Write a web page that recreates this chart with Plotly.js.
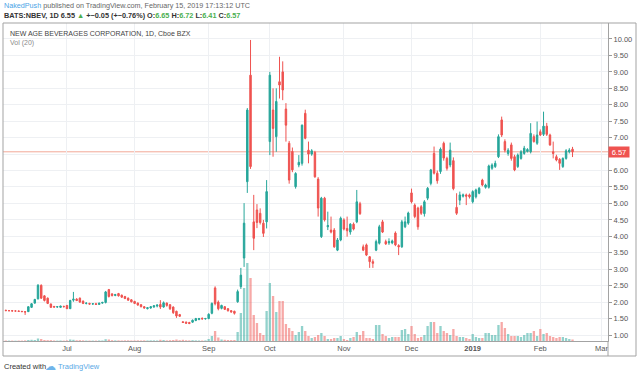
<!DOCTYPE html>
<html><head><meta charset="utf-8">
<script src="https://cdn.plot.ly/plotly-3.0.1.min.js"></script>
<style>html,body{margin:0;padding:0;background:#fff;}#chart{width:640px;height:376px;}</style>
</head><body><div id="chart"></div>
<script>
// ---- calendar ----
const firstDay = '2018-06-05';
const lastTickDay = '2019-03-01';
const holidays = ['2018-07-04','2018-09-03','2018-11-22','2018-12-05','2018-12-25','2019-01-01','2019-01-21','2019-02-18'];
const tickDates = ['2018-07-02','2018-08-01','2018-09-04','2018-10-01','2018-11-01','2018-12-03','2019-01-02','2019-02-01','2019-03-01'];
const tickLabels = ['Jul','Aug','Sep','Oct','Nov','Dec','<b>2019</b>','Feb','Mar'];

// ---- daily OHLC (NBEV, Cboe BZX) ----
const openP = [1.75,1.74,1.74,1.73,1.73,1.72,1.71,1.71,1.84,1.97,2.10,2.51,2.19,2.12,1.94,1.87,1.85,1.84,1.87,1.90,
1.80,2.06,2.09,2.12,2.03,1.96,1.96,1.94,1.95,1.93,1.97,1.99,2.38,2.25,2.20,2.26,2.21,2.17,2.12,2.07,
2.02,1.97,1.92,1.86,1.80,1.82,1.85,1.88,1.93,1.85,1.97,1.92,1.85,1.72,1.62,1.40,1.39,1.38,1.39,1.44,
1.47,1.51,1.49,1.50,1.66,2.43,2.00,1.81,1.86,1.80,1.74,1.72,2.01,2.47,3.34,5.66,8.90,4.44,4.80,4.70,
4.40,4.44,6.88,7.84,7.03,8.70,9.00,7.87,6.83,6.58,5.51,6.17,6.22,7.74,6.62,6.50,6.55,5.74,3.99,5.16,
4.29,4.19,4.19,3.58,3.89,4.50,4.24,4.13,4.37,4.44,4.99,3.68,3.74,3.38,3.23,3.58,3.79,4.44,3.84,3.80,
3.80,4.10,3.72,3.68,4.29,4.40,5.32,4.95,4.86,4.90,4.69,5.16,5.61,6.52,5.92,5.97,6.83,6.37,6.17,6.30,
4.88,5.10,5.22,5.26,5.26,5.05,5.20,5.31,5.71,5.49,5.49,6.07,6.12,6.42,7.54,6.88,6.52,6.78,6.42,6.12,
6.37,6.52,6.58,6.57,7.03,6.83,7.18,7.10,7.35,7.08,6.57,6.42,6.34,6.12,6.37,6.57,6.65];
const highP = [1.77,1.76,1.75,1.75,1.74,1.73,1.72,1.87,1.97,2.10,2.55,2.54,2.21,2.14,1.96,1.88,1.88,1.89,1.89,1.91,
2.07,2.31,2.12,2.14,2.05,1.99,1.98,1.97,1.98,1.98,2.01,2.34,2.40,2.27,2.25,2.28,2.23,2.19,2.14,2.09,
2.04,1.99,1.94,1.88,1.85,1.88,1.91,1.93,2.06,2.02,1.99,1.94,1.87,1.74,1.64,1.42,1.41,1.40,1.47,1.52,
1.52,1.53,1.52,1.66,1.99,2.48,2.05,1.92,1.88,1.82,1.76,1.74,2.38,3.04,5.01,7.90,9.97,5.26,4.98,4.85,
4.50,5.71,9.00,8.50,8.50,9.46,9.32,8.05,6.90,6.70,5.95,6.47,7.40,7.85,6.88,6.65,6.60,5.80,5.20,5.20,
4.75,4.60,4.25,3.95,4.60,4.55,4.60,4.40,4.42,5.41,5.05,3.75,3.78,3.40,3.30,3.90,4.35,4.50,3.90,3.94,
3.90,4.15,3.76,4.50,4.60,4.75,5.45,5.00,4.90,4.95,5.10,5.50,6.05,6.73,6.00,6.70,6.88,6.42,6.85,6.40,
5.31,5.36,5.30,5.30,5.30,5.40,5.45,5.50,5.75,5.60,6.18,6.22,6.30,7.10,7.64,6.95,6.68,6.85,6.48,6.52,
6.62,6.75,6.68,7.44,7.10,7.49,7.25,7.79,7.45,7.12,6.88,6.48,6.38,6.40,6.65,6.68,6.72];
const lowP = [1.73,1.72,1.72,1.71,1.70,1.70,1.61,1.70,1.82,1.95,2.08,2.10,2.02,1.94,1.82,1.83,1.83,1.82,1.84,1.79,
1.79,2.01,2.03,1.98,1.94,1.93,1.92,1.92,1.92,1.92,1.95,1.96,2.14,2.17,2.18,2.17,2.13,2.09,2.04,1.99,
1.94,1.89,1.84,1.80,1.78,1.80,1.83,1.84,1.79,1.83,1.86,1.76,1.64,1.52,1.55,1.37,1.34,1.33,1.37,1.42,
1.45,1.47,1.47,1.48,1.63,1.90,1.75,1.78,1.76,1.71,1.68,1.62,1.98,2.40,3.07,5.32,6.05,3.58,4.25,4.36,
3.98,4.24,6.47,6.42,6.57,8.19,8.14,6.88,5.60,5.95,5.45,6.10,6.15,6.95,6.22,6.45,5.78,4.60,3.95,4.45,
4.19,4.09,3.65,3.55,3.85,4.18,3.99,4.05,4.18,4.40,4.65,3.55,3.40,3.04,3.04,3.55,3.75,4.10,3.74,3.74,
3.76,3.70,3.43,3.65,4.25,4.35,5.00,4.55,4.20,4.65,4.60,5.10,5.55,5.88,5.60,5.90,6.30,6.00,6.10,5.40,
4.65,4.95,5.18,4.95,5.15,5.00,5.15,5.28,5.52,5.45,5.45,6.02,6.08,6.38,7.02,6.55,6.45,6.30,5.98,6.08,
6.33,6.48,6.55,6.52,6.85,6.78,7.05,7.05,7.05,6.75,6.37,6.28,6.02,6.08,6.33,6.52,6.41];
const closeP = [1.74,1.74,1.73,1.73,1.72,1.71,1.70,1.86,1.95,2.08,2.51,2.12,2.05,1.96,1.84,1.85,1.86,1.88,1.86,1.80,
2.05,2.09,2.05,2.00,1.96,1.97,1.94,1.95,1.93,1.97,1.99,2.31,2.17,2.20,2.23,2.19,2.15,2.11,2.06,2.01,
1.96,1.91,1.86,1.82,1.83,1.86,1.89,1.91,1.85,1.98,1.90,1.80,1.68,1.58,1.57,1.38,1.36,1.35,1.45,1.50,
1.50,1.49,1.50,1.63,1.96,1.95,1.80,1.90,1.78,1.74,1.70,1.66,2.32,2.82,4.40,7.84,6.12,3.94,4.42,4.42,
4.09,5.36,8.90,7.28,8.10,8.60,8.45,7.38,5.71,6.02,5.91,6.25,7.38,6.98,6.50,6.60,5.81,4.86,5.16,4.50,
4.33,4.13,3.68,3.89,4.55,4.22,4.17,4.37,4.22,5.05,4.69,3.58,3.43,3.23,3.18,3.84,4.29,4.13,3.77,3.84,
3.86,3.74,3.68,4.44,4.44,4.71,5.05,4.60,4.29,4.70,5.05,5.46,6.02,5.92,5.69,6.65,6.38,6.07,6.62,5.45,
4.70,5.26,5.26,5.22,5.20,5.36,5.41,5.46,5.56,5.56,6.14,6.17,6.22,7.03,7.08,6.62,6.62,6.37,6.02,6.47,
6.57,6.68,6.64,7.13,6.88,7.08,7.08,7.35,7.10,6.78,6.52,6.32,6.22,6.37,6.60,6.62,6.57];
// volume, millions of shares
const volume = [0.5,0.4,0.4,0.3,0.4,0.4,0.6,1.0,1.2,1.0,2.5,2.0,1.0,0.8,0.8,0.5,0.4,0.5,0.4,0.6,
1.5,1.2,0.7,0.8,0.6,0.4,0.4,0.4,0.4,0.5,0.5,1.8,1.5,0.8,0.6,0.6,0.5,0.6,0.6,0.5,
0.5,0.6,0.5,0.6,0.5,0.6,0.6,0.5,1.2,1.0,0.6,0.8,1.0,1.5,0.8,1.2,0.7,0.6,0.8,0.6,
0.5,0.5,0.6,2.0,5,10,3.5,1.5,1.2,1.0,0.9,1.0,9,28,53,78,63,26,18,8,
6,30,58,45,29,40,40,17,13,10,6,9,15,10,5,3,4,6,8,5,
2,2,3,3,5,2,1,3,4,9,6,10,3,3,2,16,16,7,5,3,
4,4,4,11,12,7,15,7,3,4,6,15,19,19,8,15,10,8,6,12,
5,4,4,3,2,7,4,3,3,8,8,6,6,16,19,13,7,5,5,5,
4,6,8,8,10,5,12,7,8,5,4,3,4,4,3,2,1.5];

// ---- trading-day calendar ----
function isoDay(d){return d.toISOString().slice(0,10);}
const tradingDays = [];
for(let d=new Date(firstDay+'T00:00:00Z'); isoDay(d)<=lastTickDay; d.setUTCDate(d.getUTCDate()+1)){
  const wd=d.getUTCDay(); const s=isoDay(d);
  if(wd===0||wd===6||holidays.includes(s)) continue;
  tradingDays.push(s);
}
const xs = closeP.map((_,i)=>i);
const dates = xs.map(i=>tradingDays[i]);
const tickVals = tickDates.map(d=>tradingDays.indexOf(d));

const UP='#26a69a', DN='#ef5350';
const volColors = closeP.map((c,i)=> c>=openP[i] ? 'rgba(38,166,154,0.5)' : 'rgba(239,83,80,0.5)');
const lastClose = closeP[closeP.length-1];

// price-scale ticks every 0.50; the one hidden behind the last-price tag is left blank
const yTickVals = [], yTickText = [];
for(let k=2;k<=20;k++){ const v=k/2; yTickVals.push(v); yTickText.push(Math.abs(v-lastClose)<0.3 ? '' : v.toFixed(2)); }

// pixel helpers for decorations (plot area: x 3..608, y 23..341)
const px2x = p => (p-3)/605;
const py2y = p => (341-p)/318;

const FONT='Liberation Sans, Arial, sans-serif';
const GREEN='#4caf50';

const traces = [
 {type:'bar', x:xs, y:volume, yaxis:'y2', marker:{color:volColors, line:{width:0}}, width:0.72, hoverinfo:'skip'},
 {type:'candlestick', x:xs, open:openP, high:highP, low:lowP, close:closeP, text:dates, hoverinfo:'text',
  whiskerwidth:0,
  increasing:{line:{color:UP,width:1}, fillcolor:UP},
  decreasing:{line:{color:DN,width:1}, fillcolor:DN}}
];

const layout = {
 width:640, height:376, margin:{l:3,r:32,t:23,b:35},
 paper_bgcolor:'#fff', plot_bgcolor:'#fff', showlegend:false, dragmode:false,
 font:{family:FONT, size:7.5, color:'#555'},
 boxgap:0.35,
 xaxis:{type:'linear', range:[-0.87,187.02], tickmode:'array', tickvals:tickVals, ticktext:tickLabels,
   showgrid:true, gridcolor:'#eef0f3', gridwidth:1, zeroline:false, showline:true, linecolor:'#a3a3a3', linewidth:1,
   ticks:'', tickfont:{size:7.5,color:'#555',family:FONT}, rangeslider:{visible:false}, fixedrange:true},
 yaxis:{side:'right', range:[0.8176,10.486], tickmode:'array', tickvals:yTickVals, ticktext:yTickText,
   showgrid:true, gridcolor:'#eef0f3', gridwidth:1, zeroline:false, showline:true, linecolor:'#a3a3a3', linewidth:1,
   ticks:'outside', ticklen:3, tickcolor:'#999', tickfont:{size:7.5,color:'#555',family:FONT}, fixedrange:true},
 yaxis2:{overlaying:'y', range:[0,318], visible:false, fixedrange:true},
 shapes:[
  {type:'line', xref:'paper', yref:'y', x0:0, x1:1, y0:lastClose, y1:lastClose, line:{color:'#f2a898', width:1}, layer:'between'},
  {type:'rect', xref:'paper', yref:'paper', x0:1+0.8/605, x1:px2x(635), y0:py2y(355.5), y1:py2y(341.6), fillcolor:'#fff', line:{width:0}, layer:'above'},
  {type:'rect', xref:'paper', yref:'paper', x0:0, x1:px2x(636), y0:py2y(356), y1:1, line:{color:'#a3a3a3', width:1}, fillcolor:'rgba(0,0,0,0)', layer:'above'},
  {type:'line', xref:'paper', yref:'paper', x0:1, x1:1, y0:py2y(356), y1:0, line:{color:'#a3a3a3', width:1}, layer:'above'}
 ],
 annotations:[
  {xref:'paper', yref:'paper', x:px2x(2), y:py2y(6), xanchor:'left', yanchor:'middle', showarrow:false,
   text:"<span style='color:#4ba3e6'>NakedPush</span> published on TradingView.com, February 15, 2019 17:13:12 UTC",
   font:{family:FONT, size:7.2, color:'#666'}},
  {xref:'paper', yref:'paper', x:px2x(2), y:py2y(15.5), xanchor:'left', yanchor:'middle', showarrow:false,
   text:"<b>BATS:NBEV, 1D 6.55 <span style='color:"+GREEN+"'>▲</span> +−0.05 (+−0.76%) O:<span style='color:"+GREEN+"'>6.65</span> H:<span style='color:"+GREEN+"'>6.72</span> L:<span style='color:"+GREEN+"'>6.41</span> C:<span style='color:"+GREEN+"'>6.57</span></b>",
   font:{family:FONT, size:7.3, color:'#333'}},
  {xref:'paper', yref:'paper', x:px2x(8), y:py2y(33.5), xanchor:'left', yanchor:'middle', showarrow:false,
   text:'NEW AGE BEVERAGES CORPORATION, 1D, Cboe BZX', font:{family:FONT, size:7, color:'#444'}},
  {xref:'paper', yref:'paper', x:px2x(8), y:py2y(43), xanchor:'left', yanchor:'middle', showarrow:false,
   text:'Vol (20)', font:{family:FONT, size:7, color:'#8a8a8a'}},
  {xref:'paper', yref:'paper', x:px2x(2), y:py2y(366.5), xanchor:'left', yanchor:'middle', showarrow:false,
   text:'Created with', font:{family:FONT, size:7.5, color:'#333'}},
  {xref:'paper', yref:'paper', x:px2x(43), y:py2y(366), xanchor:'left', yanchor:'middle', showarrow:false,
   text:'☁', font:{family:'DejaVu Sans', size:11, color:'#6fb4ea'}},
  {xref:'paper', yref:'paper', x:px2x(56), y:py2y(366.5), xanchor:'left', yanchor:'middle', showarrow:false,
   text:'TradingView', font:{family:FONT, size:7.5, color:'#5aa9e6'}},
  {xref:'paper', yref:'y', x:1, y:lastClose, xanchor:'left', yanchor:'middle', showarrow:false,
   text:lastClose.toFixed(2), bgcolor:'#ef5350', width:19, height:9, borderpad:0.5,
   font:{family:FONT, size:7.5, color:'#fff'}}
 ]
};

Plotly.newPlot('chart', traces, layout, {displayModeBar:false, staticPlot:true});
</script>
</body></html>
